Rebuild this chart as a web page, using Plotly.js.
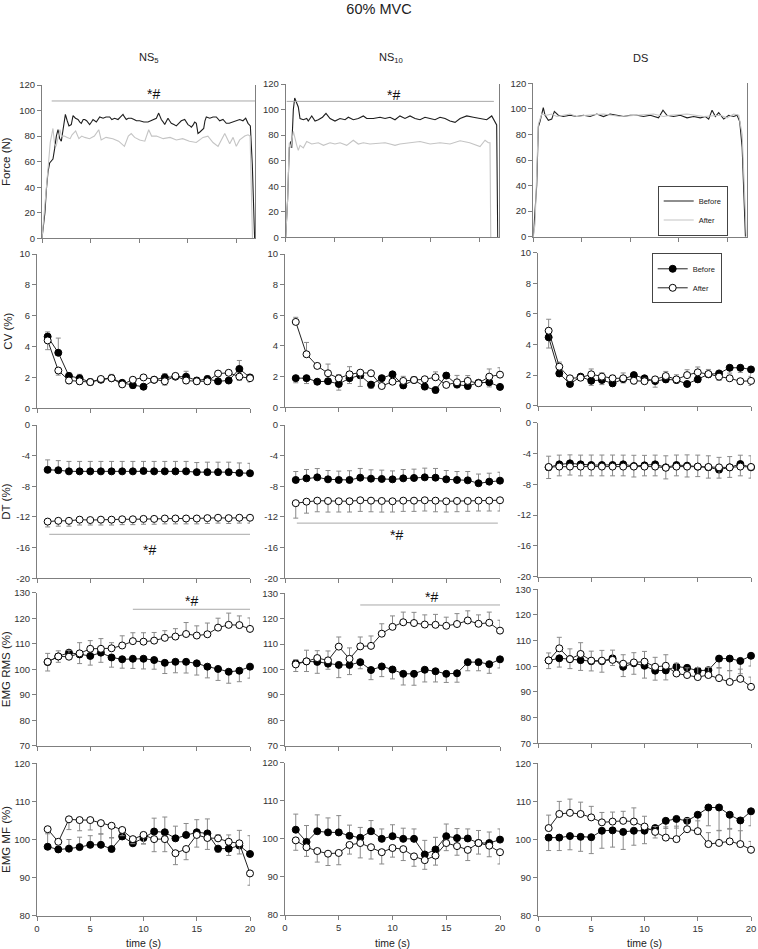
<!DOCTYPE html>
<html><head><meta charset="utf-8">
<script src="https://cdn.plot.ly/plotly-3.0.1.min.js"></script>
<style>html,body{margin:0;padding:0;background:#fff}</style>
</head><body><div id="chart" style="width:758px;height:949px"></div>
<script>
// ---------------- DATA ----------------
const timeS = [1,2,3,4,5,6,7,8,9,10,11,12,13,14,15,16,17,18,19,20];
const columnNames = ['NS<sub>5</sub>','NS<sub>10</sub>','DS'];
const rowTitles = ['Force (N)','CV (%)','DT (%)','EMG RMS (%)','EMG MF (%)'];
const dtTickVals = [-20,-16,-12,-8,-4,0];
const dtTickText = ['-20','-16','-12','-8','-4','0'];

// Force traces (time in s, force in N)
const forceT_NS5_before = [0,0.3,0.45,0.62,0.79,1.0,1.13,1.3,1.48,1.65,1.82,1.99,2.2,2.41,2.6,2.78,3.02,3.2,3.45,3.71,3.9,4.05,4.25,4.4,4.6,4.74,4.91,5.1,5.26,5.6,5.8,5.95,6.3,6.6,6.98,7.2,7.49,7.84,8.1,8.35,8.5,8.69,8.9,9.21,9.5,9.73,10.07,10.5,10.93,11.2,11.44,11.79,12.03,12.15,12.3,12.5,12.65,12.85,12.99,13.15,13.33,13.6,13.85,14.1,14.36,14.71,14.9,15.05,15.25,15.4,15.6,15.74,15.91,16.08,16.25,16.43,16.67,16.8,16.94,17.3,17.63,17.97,18.15,18.32,18.66,19.0,19.3,19.69,20.0,20.38,20.72,21.0,21.24,21.48,21.68,21.92];
const forceY_NS5_before = [0,20,38,52,59,61,62,70,80,85,78,76,88,97,92,88,89,96,94,93,91,90,93,93,92,91,89,91,93,91,94,95,94,95,95,93,94,93,95,97,95,93,94,94,93,92,92,91,91,92,93,94,98,95,93,91,89,92,94,92,90,89,88,90,92,93,91,89,88,87,89,91,90,82,83,84,86,92,95,94,95,95,93,92,93,90,90,91,92,93,92,94,90,88,58,0];
const forceT_NS5_after = [0,0.3,0.6,0.85,1.13,1.3,1.45,1.65,1.85,2.0,2.3,2.6,2.9,3.1,3.47,3.8,4.1,4.4,4.9,5.4,5.8,5.85,6.1,6.6,7.3,7.9,8.5,8.9,9.2,9.55,10.07,10.6,11.0,11.3,11.8,12.5,13.2,13.85,14.5,15.2,15.9,16.25,16.6,17.1,17.63,18.15,18.6,18.84,19.35,19.7,20.03,20.38,20.9,21.24,21.45,21.55,21.7];
const forceY_NS5_after = [0,25,55,75,86,74,72,80,85,80,80,79,78,81,84,78,80,79,78,80,84,85,77,79,78,76,72,80,82,79,77,76,85,80,80,78,79,77,78,76,75,77,79,80,75,72,78,82,74,79,72,77,80,81,80,40,0];
const forceT_NS10_before = [0,0.2,0.37,0.52,0.62,0.79,0.93,1.14,1.3,1.48,1.82,2.17,2.33,2.69,3.03,3.37,3.8,4.16,4.58,5.09,5.61,6.13,6.47,6.98,7.5,8.02,8.37,9.05,9.74,10.26,10.77,11.29,11.8,12.32,12.84,13.36,13.87,14.39,14.91,15.42,15.94,16.46,16.97,17.49,18.01,18.7,19.38,20.07,20.76,21.28,21.62,21.79,21.9];
const forceY_NS10_before = [0,30,70,75,70,100,109,104,102,93,92,93,91,95,91,92,94,97,93,91,93,92,94,92,93,95,93,93,94,93,94,92,95,93,95,93,92,94,93,92,94,93,91,90,93,95,94,93,92,95,91,88,0];
const forceT_NS10_after = [0,0.2,0.37,0.52,0.79,0.93,1.14,1.3,1.48,1.82,2.17,2.69,3.37,3.9,4.58,5.09,5.61,6.3,6.98,7.5,8.02,8.7,9.74,10.26,10.77,11.29,11.8,12.84,13.87,14.91,15.94,16.97,18.01,19.0,20.07,20.59,20.93,21.1,21.18];
const forceY_NS10_after = [0,30,74,70,83,78,72,68,72,70,75,73,74,72,74,73,74,72,76,73,74,73,74,74,73,72,73,74,75,73,74,73,75.6,74,71,76,74,74,0];
const forceT_DS_before = [0,0.35,0.52,0.69,1.03,1.21,1.55,1.9,2.17,2.58,3.1,3.79,4.48,5.17,5.86,6.55,7.23,7.92,8.62,9.3,9.99,10.68,11.36,12.06,12.91,13.37,13.78,14.46,15.15,15.85,16.53,17.22,17.74,18.08,18.43,18.77,19.11,19.63,20.14,20.66,21.01,21.28,21.53,21.87];
const forceY_DS_before = [0,40,86,90,101,95,91,92,98,95,94,95,94,95,94,96,94,96,95,94,95,95,94,95,93,99,95,94,95,93,94,93,94,92,99,94,97,92,95,94,95,90,70,0];
const forceT_DS_after = [0,0.18,0.52,0.87,1.38,1.9,2.42,3.1,3.79,4.48,5.51,7.23,8.96,10.68,12.4,13.43,14.12,15.85,17.56,19.29,19.98,20.66,21.18,21.53,21.97];
const forceY_DS_after = [0,10,88,96,95,96,94,95,96,94,95,96,94,95,96,94,95,96,94,95,93,96,95,80,0];

// CV (%) ; error arrays: positive = bar up, negative = bar down
const cvBefore_NS5 = [4.65,3.6,2.1,1.95,1.7,1.85,1.95,1.65,1.5,1.4,1.85,2.0,2.05,2.05,1.8,1.9,1.75,1.8,2.55,2.0];
const cvBeforeErr_NS5 = [0.3,0.95,0.2,0.25,0.2,0.15,0.25,0.15,-0.2,-0.15,0.15,0.25,0.15,0.35,0.2,0.2,0.15,0.15,0.55,0.2];
const cvAfter_NS5 = [4.4,2.45,1.8,1.75,1.7,1.9,1.95,1.55,1.85,2.0,1.85,1.75,2.1,1.8,1.75,1.75,2.25,2.3,2.05,1.95];
const cvAfterErr_NS5 = [-0.6,-0.3,-0.2,-0.2,-0.2,0.15,0.2,-0.15,0.15,0.15,0.1,-0.25,0.15,-0.2,-0.2,-0.2,0.15,0.1,-0.25,-0.25];
const cvBefore_NS10 = [1.9,1.9,1.67,1.7,1.52,1.9,2.08,1.48,1.9,2.15,1.43,1.78,1.35,1.13,2.07,1.48,1.39,1.6,1.63,1.33];
const cvBeforeErr_NS10 = [-0.3,-0.35,-0.15,0.15,-0.4,-0.35,0.2,-0.25,0.15,0.15,-0.2,0.2,-0.2,-0.2,0.2,-0.2,-0.2,0.15,-0.3,-0.15];
const cvAfter_NS10 = [5.57,3.46,2.7,2.22,1.89,2.15,2.26,2.22,1.39,1.67,1.72,1.78,1.83,1.96,1.46,1.63,1.72,1.57,2.0,2.13];
const cvAfterErr_NS10 = [0.3,0.77,0.1,0.6,0.25,0.5,-0.9,0.1,-0.15,0.2,0.3,0.2,0.1,0.35,-0.15,0.45,0.35,0.2,0.5,0.45];
const cvBefore_DS = [4.47,2.11,1.42,1.9,1.63,1.68,1.46,1.74,2.0,1.79,1.61,1.72,1.68,1.42,1.72,2.05,2.11,2.48,2.48,2.37];
const cvBeforeErr_DS = [-0.7,-0.2,-0.15,-0.2,-0.3,-0.3,-0.2,-0.25,-0.2,-0.2,-0.4,-0.2,-0.2,-0.15,-0.2,-0.2,-0.2,-0.35,-0.3,-0.45];
const cvAfter_DS = [4.9,2.55,1.79,1.83,2.05,1.9,1.79,1.79,1.63,1.6,1.72,1.94,1.72,2.0,2.18,2.07,1.9,1.79,1.6,1.62];
const cvAfterErr_DS = [0.75,0.3,-0.15,0.15,0.35,0.25,0.2,0.35,-0.2,0.2,0.15,0.3,0.3,0.35,0.35,0.3,-0.25,0.2,-0.2,-0.3];

// DT (%)
const dtBefore_NS5 = [-5.85,-5.9,-6.05,-6.05,-6.05,-6.05,-6.05,-6.05,-6.05,-6.0,-6.05,-6.05,-6.05,-6.05,-6.15,-6.15,-6.15,-6.15,-6.25,-6.3];
const dtBeforeErr_NS5 = [1.3,1.25,1.3,1.3,1.3,1.3,1.3,1.3,1.3,1.25,1.3,1.3,1.3,1.3,1.25,1.3,1.3,1.3,1.3,1.3];
const dtAfter_NS5 = [-12.6,-12.5,-12.5,-12.35,-12.4,-12.35,-12.35,-12.3,-12.3,-12.25,-12.25,-12.2,-12.2,-12.2,-12.2,-12.15,-12.1,-12.15,-12.1,-12.1];
const dtAfterErr_NS5 = [-0.7,-0.7,-0.7,-0.7,-0.65,-0.7,-0.7,-0.7,-0.7,-0.7,-0.7,-0.7,-0.7,-0.7,-0.7,-0.7,-0.7,-0.7,-0.7,-0.7];
const dtBefore_NS10 = [-7.17,-6.96,-6.83,-7.09,-7.17,-7.17,-6.87,-7.0,-7.04,-7.09,-6.96,-6.91,-6.83,-6.87,-7.09,-7.17,-7.22,-7.6,-7.39,-7.26];
const dtBeforeErr_NS10 = [1.1,1.15,1.15,1.15,1.15,1.2,1.2,1.15,1.15,1.1,1.15,1.15,1.2,1.2,1.15,1.1,1.15,1.2,1.1,1.1];
const dtAfter_NS10 = [-10.2,-10.0,-9.87,-9.91,-9.95,-9.95,-9.82,-9.87,-9.91,-9.95,-9.87,-9.87,-9.82,-9.87,-9.95,-9.91,-9.91,-9.87,-9.87,-9.82];
const dtAfterErr_NS10 = [-1.95,-1.5,-1.45,-1.45,-1.4,-1.4,-1.45,-1.45,-1.45,-1.4,-1.4,-1.4,-1.4,-1.45,-1.4,-1.4,-1.35,-1.35,-1.35,-1.4];
const dtBefore_DS = [-5.8,-5.41,-5.28,-5.41,-5.5,-5.5,-5.5,-5.41,-5.63,-5.54,-5.41,-5.8,-5.5,-5.58,-5.71,-5.8,-6.1,-5.8,-5.37,-5.8];
const dtBeforeErr_DS = [1.45,1.2,1.1,1.2,1.3,1.3,1.3,1.2,1.4,1.3,1.2,1.5,1.3,1.4,1.5,1.5,1.6,1.4,1.15,1.5];
const dtAfter_DS = [-5.75,-5.7,-5.7,-5.7,-5.7,-5.7,-5.7,-5.7,-5.7,-5.7,-5.7,-5.85,-5.7,-5.7,-5.7,-5.75,-5.8,-5.8,-5.7,-5.75];
const dtAfterErr_DS = [-1.5,-1.2,-1.1,-1.2,-1.2,-1.2,-1.2,-1.2,-1.35,-1.2,-1.2,-1.45,-1.2,-1.35,-1.3,-1.45,-1.4,-1.3,-1.2,-1.45];

// EMG RMS (%)
const rmsBefore_NS5 = [102.8,105.0,106.5,105.8,105.2,106.5,104.6,103.9,104.1,104.1,103.6,102.5,102.9,102.9,102.3,101.0,100.1,99.0,99.4,101.0];
const rmsBeforeErr_NS5 = [-3.5,-2.3,-1.5,-3.6,-3.6,-3.8,-3.8,-3.5,-3.8,-4.0,-3.6,-4.2,-4.3,-4.4,-4.6,-4.4,-4.5,-4.5,-4.3,-4.5];
const rmsAfter_NS5 = [102.9,105.0,104.9,106.2,108.0,108.0,108.2,109.3,111.0,110.8,111.2,112.3,112.8,113.8,113.2,113.7,116.3,117.4,117.3,115.8];
const rmsAfterErr_NS5 = [3.3,2.2,2.5,4.2,3.2,4.0,2.2,3.8,3.3,3.5,3.2,2.8,3.1,4.5,3.8,4.4,3.7,4.6,3.6,4.3];
const rmsBefore_NS10 = [102.4,103.2,103.0,102.3,101.8,101.8,102.9,99.8,101.2,100.0,98.3,98.3,99.9,99.3,98.3,98.5,102.9,102.9,102.1,104.0];
const rmsBeforeErr_NS10 = [-3.2,-4.0,-4.5,-2.2,-5.0,-3.8,-2.6,-3.8,-4.0,-3.7,-4.4,-4.5,-4.8,-4.2,-3.4,-3.5,-3.4,-3.4,-3.6,-3.4];
const rmsAfter_NS10 = [102.0,103.2,104.5,103.6,109.0,104.2,109.1,109.3,114.1,116.8,118.6,118.3,117.7,117.6,117.2,117.9,119.3,118.0,118.4,115.3];
const rmsAfterErr_NS10 = [1.9,4.4,2.9,3.7,3.8,4.3,3.7,3.9,3.9,4.3,4.0,4.2,3.8,4.1,3.4,4.1,3.8,3.5,4.2,4.1];
const rmsBefore_DS = [102.3,103.1,102.8,102.4,102.0,102.0,103.1,99.8,101.2,100.2,98.3,98.4,99.9,99.4,98.3,98.5,103.0,103.0,102.1,104.1];
const rmsBeforeErr_DS = [-3.2,-3.4,-3.7,-4.0,-3.8,-4.3,-2.8,-3.8,-4.3,-4.8,-3.7,-3.7,-1.5,-1.6,-1.3,-1.5,-3.5,-4.7,-5.0,-4.0];
const rmsAfter_DS = [102.3,107.0,102.8,104.8,102.2,102.2,102.5,101.0,101.5,101.8,99.8,100.2,97.2,96.6,95.8,96.6,95.4,93.9,95.1,92.0];
const rmsAfterErr_DS = [2.9,4.3,4.0,4.4,3.7,4.0,3.8,3.5,3.8,4.0,3.7,4.3,4.0,2.8,3.7,3.0,3.9,4.4,3.8,3.8];

// EMG MF (%)
const mfBefore_NS5 = [98.1,97.4,97.6,98.0,98.6,98.6,97.5,100.8,99.0,100.4,102.1,101.9,100.3,101.2,101.9,101.6,97.6,97.6,98.4,96.2];
const mfBeforeErr_NS5 = [4.0,0.7,2.4,2.6,2.4,2.9,3.0,0.9,0.8,-1.5,3.5,4.0,3.2,3.0,3.3,3.8,-1.0,-1.8,4.0,4.8];
const mfAfter_NS5 = [102.7,99.4,105.3,105.1,105.1,104.3,103.6,102.5,100.1,101.2,100.1,100.1,96.4,97.5,101.2,100.4,100.3,99.4,99.0,91.1];
const mfAfterErr_NS5 = [-1.2,-0.8,-2.7,-2.8,-2.6,-2.9,-3.2,-1.5,-1.2,-2.4,-3.3,-3.3,-3.0,-2.8,-3.2,-3.0,1.0,1.8,-2.8,-3.1];
const mfBefore_NS10 = [102.4,99.2,102.0,101.7,101.7,100.8,100.3,102.0,100.0,100.7,100.0,100.0,95.9,97.2,100.7,100.2,100.1,98.9,98.9,99.8];
const mfBeforeErr_NS10 = [4.1,4.3,4.3,3.8,4.4,2.8,2.7,2.8,2.6,3.0,2.8,2.6,3.7,3.2,3.2,2.5,2.5,3.3,2.9,2.8];
const mfAfter_NS10 = [99.6,97.8,96.8,96.1,96.3,98.4,98.9,97.8,96.5,97.6,97.3,95.4,94.4,95.6,98.9,98.1,97.1,98.9,98.2,96.5];
const mfAfterErr_NS10 = [-2.6,-2.4,-2.9,-3.1,-3.1,-2.4,-3.9,-3.1,-3.1,-2.4,-3.0,-2.6,-2.4,-2.5,-2.0,-2.4,-2.8,-2.9,-2.9,-3.1];
const mfBefore_DS = [100.5,100.5,100.9,100.7,100.6,102.3,102.4,102.0,102.3,102.3,103.0,104.9,105.4,104.9,106.5,108.4,108.4,106.5,105.0,107.4];
const mfBeforeErr_DS = [-3.4,-3.4,-3.6,-3.8,-4.3,-4.6,-4.4,-4.6,-3.8,-3.4,-2.6,-2.0,-2.4,-1.8,-5.0,-4.8,-6.0,-3.6,-5.7,-3.8];
const mfAfter_DS = [103.0,106.7,107.0,106.7,105.8,104.5,104.7,104.9,104.7,103.4,102.0,100.5,100.1,102.7,102.2,98.8,99.1,99.5,98.8,97.3];
const mfAfterErr_DS = [3.4,3.3,3.6,3.1,2.9,2.6,2.5,2.5,3.6,2.7,1.4,2.8,3.4,2.8,2.7,3.0,3.2,3.2,3.5,2.2];

// Significance bars
const sigRow = [0,0,2,2,3,3];
const sigCol = [0,1,0,1,0,1];
const sigStart = [1.0,0.1,1.15,1.1,9.0,7.0];
const sigEnd = [22,21.5,20,19.8,20,20.3];
const sigLevel = [107.5,106.4,-14.26,-12.8,123.5,125.4];
const sigLabelT = [11.5,11.1,10.6,10.4,14.5,13.6];
const sigLabelY = [112.8,111.5,-16.3,-14.4,126.9,128.7];
const sigLabel = '*#';

// ---------------- LAYOUT GEOMETRY (pixels) ----------------
const W = 758, H = 949;
const FONT = 'Liberation Sans, Arial, sans-serif';
const dataColPx = [[37,250],[285,500],[538,751]];
const forceColPx = [[42,255.4],[285.7,498.7],[533.3,746.7]];
const rowPx = [
  [[85,238.3],[84,237.3],[83.3,236.7]],
  [[254,408.3],[254,407.3],[252.7,405.7]],
  [[425,578.3],[425,578.3],[422.7,576.7]],
  [[592.7,745.7],[593.3,745.7],[589.3,743.3]],
  [[763.3,915.7],[762.7,915],[763.3,915.7]]
];
const yRanges = [[0,120],[0,10],[-20,0],[70,130],[80,120]];
const yDticks = [20,2,4,10,10];

const forceData = [
  [forceT_NS5_before, forceY_NS5_before, forceT_NS5_after, forceY_NS5_after],
  [forceT_NS10_before, forceY_NS10_before, forceT_NS10_after, forceY_NS10_after],
  [forceT_DS_before, forceY_DS_before, forceT_DS_after, forceY_DS_after]
];
const seriesTable = [
  null,
  [[cvBefore_NS5,cvBeforeErr_NS5,cvAfter_NS5,cvAfterErr_NS5],[cvBefore_NS10,cvBeforeErr_NS10,cvAfter_NS10,cvAfterErr_NS10],[cvBefore_DS,cvBeforeErr_DS,cvAfter_DS,cvAfterErr_DS]],
  [[dtBefore_NS5,dtBeforeErr_NS5,dtAfter_NS5,dtAfterErr_NS5],[dtBefore_NS10,dtBeforeErr_NS10,dtAfter_NS10,dtAfterErr_NS10],[dtBefore_DS,dtBeforeErr_DS,dtAfter_DS,dtAfterErr_DS]],
  [[rmsBefore_NS5,rmsBeforeErr_NS5,rmsAfter_NS5,rmsAfterErr_NS5],[rmsBefore_NS10,rmsBeforeErr_NS10,rmsAfter_NS10,rmsAfterErr_NS10],[rmsBefore_DS,rmsBeforeErr_DS,rmsAfter_DS,rmsAfterErr_DS]],
  [[mfBefore_NS5,mfBeforeErr_NS5,mfAfter_NS5,mfAfterErr_NS5],[mfBefore_NS10,mfBeforeErr_NS10,mfAfter_NS10,mfAfterErr_NS10],[mfBefore_DS,mfBeforeErr_DS,mfAfter_DS,mfAfterErr_DS]]
];

function axId(r,c){ const n = r*3+c+1; return n===1 ? '' : String(n); }
function errObj(e){
  return {type:'data', symmetric:false,
    array: e.map(v => v > 0 ? v : 0),
    arrayminus: e.map(v => v < 0 ? -v : 0),
    color:'#8a8a8a', thickness:1, width:2.5};
}

const traces = [];
const layout = {
  width: W, height: H,
  margin: {l:0, r:0, t:0, b:0},
  paper_bgcolor:'#fff', plot_bgcolor:'#fff',
  font: {family: FONT, color:'#222', size:9},
  showlegend: true,
  title: {text:'60% MVC', font:{family:FONT, size:14.5, color:'#222'}, x:0.5, xanchor:'center', y:1-9/H, yanchor:'middle'},
  annotations: [], shapes: [],
  legend: {x:692.7/W, y:1-210.5/H, xanchor:'center', yanchor:'middle', bordercolor:'#444', borderwidth:1, bgcolor:'#fff',
           font:{family:FONT, size:7.5, color:'#222'}, itemwidth:30, tracegroupgap:0},
  legend2: {x:686.7/W, y:1-278.3/H, xanchor:'center', yanchor:'middle', bordercolor:'#444', borderwidth:1, bgcolor:'#fff',
           font:{family:FONT, size:7.5, color:'#222'}, itemwidth:30, tracegroupgap:0}
};

for (let r = 0; r < 5; r++) {
  for (let c = 0; c < 3; c++) {
    const id = axId(r,c);
    const xPx = r === 0 ? forceColPx[c] : dataColPx[c];
    const yPx = rowPx[r][c];
    const xa = {
      domain:[xPx[0]/W, xPx[1]/W], anchor:'y'+id,
      range: r === 0 ? [0,22] : [0,20],
      tickvals:[0,5,10,15,20], showticklabels: r === 4,
      showline:true, linecolor:'#7f7f7f', linewidth:1,
      ticks:'outside', ticklen:4, tickcolor:'#7f7f7f', tickwidth:1,
      showgrid:false, zeroline:false, fixedrange:true,
      tickfont:{family:FONT, size:9.5, color:'#333'}
    };
    if (r === 4) xa.title = {text:'time (s)', font:{family:FONT, size:10.5, color:'#222'}, standoff:9};
    const ya = {
      domain:[1-yPx[1]/H, 1-yPx[0]/H], anchor:'x'+id,
      range: yRanges[r], dtick: yDticks[r], tick0: yRanges[r][0],
      showline:true, linecolor:'#7f7f7f', linewidth:1,
      ticks:'outside', ticklen:4, tickcolor:'#7f7f7f', tickwidth:1,
      showgrid:false, zeroline:false, fixedrange:true,
      tickfont:{family:FONT, size:9.5, color:'#333'}
    };
    if (r === 0) ya.mirror = true;
    if (r === 2) { ya.tickvals = dtTickVals; ya.ticktext = dtTickText; }
    if (c === 0) ya.title = {text: rowTitles[r], font:{family:FONT, size:11.5, color:'#222'}, standoff: r === 0 ? 8 : 4};
    layout['xaxis'+id] = xa;
    layout['yaxis'+id] = ya;

    if (r === 0) {
      const f = forceData[c];
      traces.push({x:f[0], y:f[1], xaxis:'x'+id, yaxis:'y'+id, type:'scatter', mode:'lines', name:'Before',
        line:{color:'#1e1e1e', width:1.1}, showlegend: c === 2, legend:'legend'});
      traces.push({x:f[2], y:f[3], xaxis:'x'+id, yaxis:'y'+id, type:'scatter', mode:'lines', name:'After',
        line:{color:'#c4c4c4', width:1.1}, showlegend: c === 2, legend:'legend'});
    } else {
      const s = seriesTable[r][c];
      const showL = (r === 1 && c === 2);
      traces.push({x:timeS, y:s[0], xaxis:'x'+id, yaxis:'y'+id, type:'scatter', mode:'lines+markers', name:'Before',
        line:{color:'#222', width:1}, marker:{size:7, color:'#000', line:{color:'#000', width:1}},
        error_y: errObj(s[1]), cliponaxis:false, showlegend: showL, legend:'legend2'});
      traces.push({x:timeS, y:s[2], xaxis:'x'+id, yaxis:'y'+id, type:'scatter', mode:'lines+markers', name:'After',
        line:{color:'#222', width:1}, marker:{size:7, color:'#fff', line:{color:'#000', width:1}},
        error_y: errObj(s[3]), cliponaxis:false, showlegend: showL, legend:'legend2'});
    }
  }
}

// column titles
const colCenterPx = [149, 391, 640];
for (let c = 0; c < 3; c++) {
  layout.annotations.push({text: columnNames[c], xref:'paper', yref:'paper', x: colCenterPx[c]/W, y: 1-58/H,
    xanchor:'center', yanchor:'middle', showarrow:false, font:{family:FONT, size:11, color:'#222'}});
}
// significance bars
for (let i = 0; i < sigRow.length; i++) {
  const id = axId(sigRow[i], sigCol[i]);
  layout.shapes.push({type:'line', xref:'x'+id, yref:'y'+id, x0:sigStart[i], x1:sigEnd[i], y0:sigLevel[i], y1:sigLevel[i],
    line:{color:'#a8a8a8', width:1}});
  layout.annotations.push({text: sigLabel, xref:'x'+id, yref:'y'+id, x:sigLabelT[i], y:sigLabelY[i],
    xanchor:'center', yanchor:'middle', showarrow:false, font:{family:FONT, size:14, color:'#111'}});
}

Plotly.newPlot('chart', traces, layout, {staticPlot:true, displayModeBar:false});
</script>
</body></html>
